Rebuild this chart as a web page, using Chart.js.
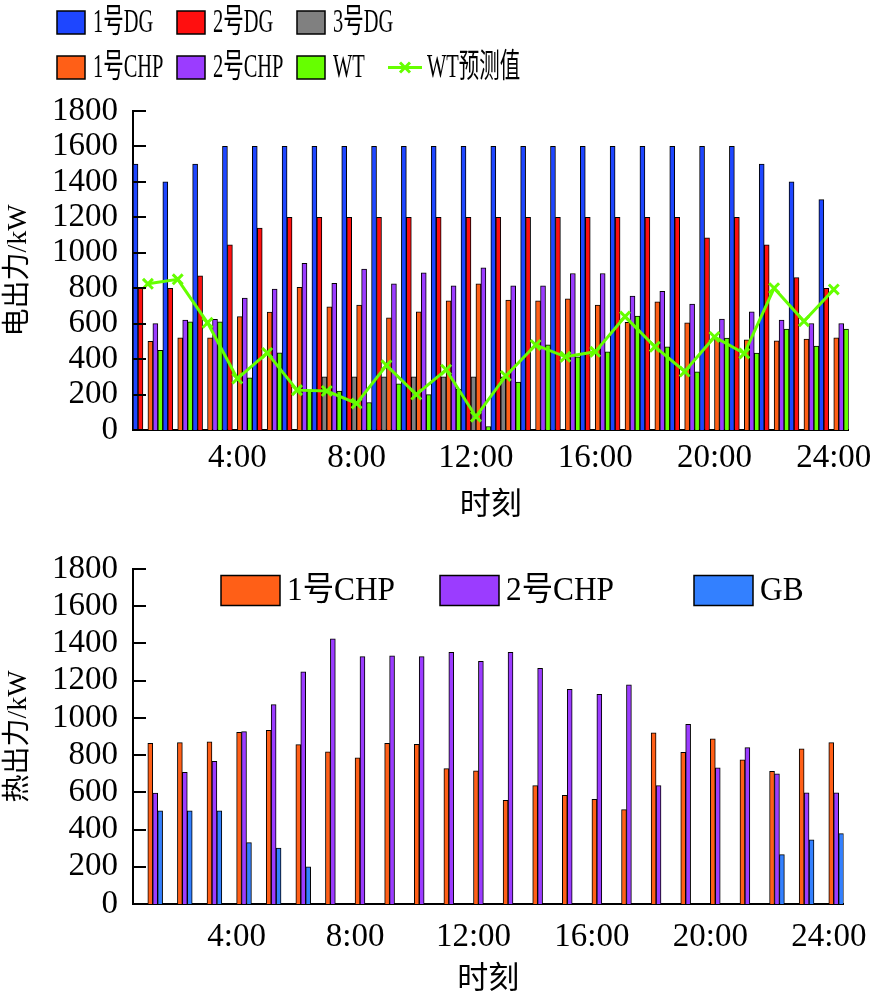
<!DOCTYPE html>
<html>
<head>
<meta charset="utf-8">
<script src="https://cdn.jsdelivr.net/npm/chart.js@4"></script>
<style>
  body { margin: 0; background: #fff; }
  canvas { display: block; }
</style>
</head>
<body>
<canvas id="elec" width="881" height="530"></canvas>
<canvas id="heat" width="881" height="470"></canvas>
<script>
/* global Chart */

const hours = ['1:00', '2:00', '3:00', '4:00', '5:00', '6:00', '7:00', '8:00', '9:00', '10:00', '11:00', '12:00',
  '13:00', '14:00', '15:00', '16:00', '17:00', '18:00', '19:00', '20:00', '21:00', '22:00', '23:00', '24:00']

// electric output, kW
const dg1 = [1500, 1400, 1500, 1600, 1600, 1600, 1600, 1600, 1600, 1600, 1600, 1600, 1600, 1600, 1600, 1600, 1600, 1600, 1600, 1600, 1600, 1500, 1400, 1300]
const dg2 = [800, 800, 870, 1045, 1140, 1200, 1200, 1200, 1200, 1200, 1200, 1200, 1200, 1200, 1200, 1200, 1200, 1200, 1200, 1085, 1200, 1045, 860, 800]
const dg3 = [0, 0, 0, 0, 0, 0, 300, 300, 300, 300, 300, 300, 300, 0, 0, 0, 0, 0, 0, 0, 0, 0, 0, 0]
const chp1Elec = [500, 520, 520, 640, 665, 805, 695, 705, 633, 667, 729, 825, 733, 729, 740, 705, 607, 723, 605, 517, 509, 503, 513, 520]
const chp2Elec = [600, 620, 625, 745, 795, 940, 827, 908, 825, 887, 813, 915, 813, 813, 883, 883, 755, 783, 710, 626, 667, 620, 601, 601]
const wt = [450, 610, 610, 295, 435, 225, 220, 155, 260, 200, 230, 20, 270, 480, 413, 441, 643, 470, 328, 518, 434, 569, 473, 569]
const wtForecast = [825, 850, 605, 290, 435, 225, 220, 150, 365, 200, 340, 75, 305, 480, 413, 441, 640, 470, 330, 525, 432, 800, 614, 793]

// heat output, kW
const chp1Heat = [863, 867, 872, 922, 933, 856, 818, 786, 863, 858, 727, 716, 557, 636, 584, 562, 507, 920, 815, 888, 775, 713, 834, 867]
const chp2Heat = [596, 707, 766, 926, 1071, 1248, 1425, 1329, 1334, 1329, 1352, 1304, 1352, 1266, 1153, 1126, 1178, 636, 965, 732, 840, 700, 598, 598]
const gb = [500, 500, 500, 330, 300, 200, 0, 0, 0, 0, 0, 0, 0, 0, 0, 0, 0, 0, 0, 0, 0, 265, 345, 378]

const yTicks = { min: 0, max: 1800, step: 200 }

const C = {
  dg1: '#1e46ff', dg2: '#ff0f0f', dg3: '#808080', chp1: '#ff5f17',
  chp2: '#9b3cff', wt: '#66ff00', gb: '#3380ff'
}

Chart.defaults.font.family = '"Liberation Serif", "Noto Sans CJK SC", serif'
Chart.defaults.color = '#000'

// legend laid out on a fixed grid, like the original figure
const gridLegend = {
  id: 'gridLegend',
  afterDraw (chart, args, o) {
    const ctx = chart.ctx
    ctx.save()
    ctx.font = o.font
    ctx.textBaseline = 'middle'
    o.items.forEach(it => {
      const ds = chart.data.datasets[it.i]
      const y = it.y
      let tx
      if (ds.type === 'line') {
        ctx.strokeStyle = ds.borderColor
        ctx.lineWidth = 3
        ctx.beginPath()
        ctx.moveTo(it.x, y); ctx.lineTo(it.x + 34, y)
        const cx = it.x + 17; const r = 5
        ctx.moveTo(cx - r, y - r); ctx.lineTo(cx + r, y + r)
        ctx.moveTo(cx - r, y + r); ctx.lineTo(cx + r, y - r)
        ctx.stroke()
        tx = it.x + 39
      } else {
        ctx.fillStyle = ds.backgroundColor
        ctx.fillRect(it.x, y - o.boxH / 2, o.boxW, o.boxH)
        ctx.strokeStyle = '#000'
        ctx.lineWidth = 1.5
        ctx.strokeRect(it.x, y - o.boxH / 2, o.boxW, o.boxH)
        tx = it.x + o.boxW + o.gap
      }
      ctx.save()
      ctx.translate(tx, y + 1)
      ctx.scale(o.squeeze, 1)
      ctx.fillStyle = '#000'
      ctx.fillText(ds.label, 0, 0)
      ctx.restore()
    })
    ctx.restore()
  }
}

// short tick marks pointing into the plot from the y axis
const inTicks = {
  id: 'inTicks',
  afterDraw (chart) {
    const s = chart.scales.y
    const ctx = chart.ctx
    ctx.save()
    ctx.strokeStyle = '#000'
    ctx.lineWidth = 2
    ctx.beginPath()
    s.ticks.forEach(t => {
      const py = Math.round(s.getPixelForValue(t.value))
      ctx.moveTo(chart.chartArea.left, py)
      ctx.lineTo(chart.chartArea.left + 13, py)
    })
    ctx.stroke()
    ctx.restore()
  }
}

const bar = (label, data, color) => ({
  label, data, backgroundColor: color, borderColor: '#000', borderWidth: 1,
  barPercentage: 1, categoryPercentage: 1, order: 1
})

const yAxis = text => ({
  min: yTicks.min,
  max: yTicks.max,
  ticks: { stepSize: yTicks.step, autoSkip: false, padding: 15, font: { size: 33 }, callback: v => String(v) },
  grid: { display: false, drawTicks: false },
  border: { color: '#000', width: 2 },
  title: { display: true, text, font: { size: 28 }, padding: { top: 2, bottom: 0 } },
  afterFit: s => { s.width = 133 }
})

const xAxis = (h, pad, titlePad) => ({
  grid: { display: false, drawTicks: false },
  border: { color: '#000', width: 2 },
  ticks: {
    autoSkip: false, maxRotation: 0, padding: pad, font: { size: 33 },
    callback: (v, i) => (i + 1) % 4 === 0 ? hours[i] : ''
  },
  title: { display: true, text: '时刻', font: { size: 31 }, padding: { top: 0, bottom: titlePad } },
  afterFit: s => { s.height = h }
})

new Chart(document.getElementById('elec'), {
  type: 'bar',
  data: {
    labels: hours,
    datasets: [
      bar('1号DG', dg1, C.dg1),
      bar('2号DG', dg2, C.dg2),
      bar('3号DG', dg3, C.dg3),
      bar('1号CHP', chp1Elec, C.chp1),
      bar('2号CHP', chp2Elec, C.chp2),
      bar('WT', wt, C.wt),
      {
        type: 'line', label: 'WT预测值', data: wtForecast, order: 0,
        borderColor: C.wt, backgroundColor: C.wt, borderWidth: 3, tension: 0,
        pointStyle: 'crossRot', pointRadius: 7, pointBorderWidth: 3
      }
    ]
  },
  options: {
    responsive: false,
    animation: false,
    layout: { padding: { top: 111, right: 31, left: 0, bottom: 0 } },
    scales: { x: xAxis(100, 9, 6), y: yAxis('电出力/kW') },
    plugins: {
      legend: { display: false },
      tooltip: { enabled: false },
      gridLegend: {
        font: '33px "Liberation Serif", "Noto Sans CJK SC", serif',
        squeeze: 0.62, boxW: 28, boxH: 23, gap: 8,
        items: [
          { i: 0, x: 57, y: 22.5 }, { i: 1, x: 177, y: 22.5 }, { i: 2, x: 297, y: 22.5 },
          { i: 3, x: 57, y: 67.5 }, { i: 4, x: 177, y: 67.5 }, { i: 5, x: 297, y: 67.5 },
          { i: 6, x: 388, y: 67.5 }
        ]
      }
    }
  },
  plugins: [gridLegend, inTicks]
})

// the heat chart keeps the six-bar slots of the electric chart; the first three are empty
new Chart(document.getElementById('heat'), {
  type: 'bar',
  data: {
    labels: hours,
    datasets: [
      bar('', [], 'transparent'),
      bar('', [], 'transparent'),
      bar('', [], 'transparent'),
      bar('1号CHP', chp1Heat, C.chp1),
      bar('2号CHP', chp2Heat, C.chp2),
      bar('GB', gb, C.gb)
    ]
  },
  options: {
    responsive: false,
    animation: false,
    layout: { padding: { top: 39, right: 30, left: 0, bottom: 0 } },
    scales: { x: xAxis(96, 14, 2), y: yAxis('热出力/kW') },
    plugins: {
      legend: { display: false },
      tooltip: { enabled: false },
      gridLegend: {
        font: '33px "Liberation Serif", "Noto Sans CJK SC", serif',
        squeeze: 0.95, boxW: 59, boxH: 30, gap: 7,
        items: [
          { i: 3, x: 221, y: 60.5 }, { i: 4, x: 440, y: 60.5 }, { i: 5, x: 694, y: 60.5 }
        ]
      }
    }
  },
  plugins: [gridLegend, inTicks]
})
</script>
</body>
</html>
